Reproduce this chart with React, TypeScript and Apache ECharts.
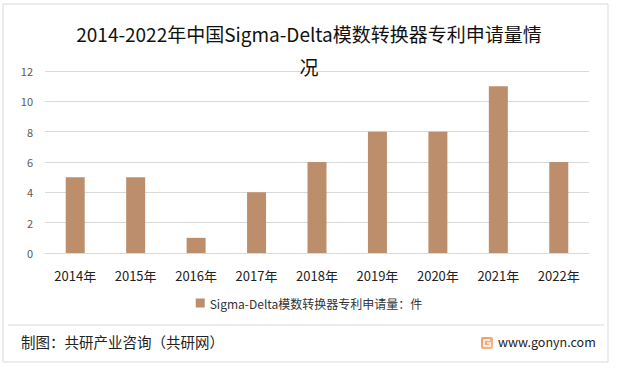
import React, { useEffect, useRef } from "react";
import * as echarts from "echarts";

const categories = ["2014年", "2015年", "2016年", "2017年", "2018年", "2019年", "2020年", "2021年", "2022年"];
const values = [5, 5, 1, 4, 6, 8, 8, 11, 6];
const seriesName = "Sigma-Delta模数转换器专利申请量：件";
const titleText = "2014-2022年中国Sigma-Delta模数转换器专利申请量情\n况";
const sourceText = "制图：共研产业咨询（共研网）";
const siteText = "www.gonyn.com";

export default function App() {
  const ref = useRef<HTMLDivElement>(null);
  useEffect(() => {
    if (!ref.current) return;
    const chart = echarts.init(ref.current, undefined, { renderer: "svg" });
    const font = "'Noto Sans CJK SC', 'Noto Sans', sans-serif";
    chart.setOption({
      animation: false,
      backgroundColor: "#ffffff",
      title: {
        text: titleText,
        left: "center",
        top: 12,
        textStyle: { fontSize: 19, fontWeight: "normal", color: "#111", fontFamily: font, lineHeight: 33 },
      },
      grid: { left: 45, right: 29, top: 71, bottom: 117 },
      legend: {
        bottom: 56,
        left: "center",
        itemWidth: 9,
        itemHeight: 9,
        icon: "rect",
        textStyle: { fontSize: 12, color: "#333", fontFamily: font },
        data: [seriesName],
      },
      xAxis: {
        type: "category",
        data: categories,
        axisLine: { show: true, lineStyle: { color: "#d9d9d9" } },
        axisTick: { show: false },
        axisLabel: { fontSize: 13, color: "#222", margin: 16, fontFamily: font },
      },
      yAxis: {
        type: "value",
        min: 0,
        max: 12,
        interval: 2,
        axisLine: { show: false },
        axisTick: { show: false },
        splitLine: { lineStyle: { color: "#d9d9d9" } },
        axisLabel: { fontSize: 11, color: "#595959", margin: 12, fontFamily: font },
      },
      series: [
        {
          name: seriesName,
          type: "bar",
          data: values,
          barWidth: 19,
          itemStyle: { color: "#BD8E6C" },
        },
      ],
      graphic: [
        {
          type: "rect",
          shape: { x: 3, y: 4, width: 605, height: 358 },
          style: { fill: "none", stroke: "#d9d9d9", lineWidth: 1 },
          silent: true,
        },
        {
          type: "line",
          shape: { x1: 8, y1: 325, x2: 604, y2: 325 },
          style: { stroke: "#d9d9d9", lineWidth: 1 },
        },
        {
          type: "text",
          left: 21,
          top: 334,
          style: { text: sourceText, fontSize: 14.5, fill: "#222", fontFamily: font },
        },
        {
          type: "rect",
          shape: { x: 481, y: 337, width: 12, height: 12, r: 2 },
          style: {
            fill: new echarts.graphic.LinearGradient(0, 0, 1, 1, [
              { offset: 0, color: "#F59B4C" },
              { offset: 1, color: "#F7B8A2" },
            ]),
          },
        },
        {
          type: "polyline",
          shape: { points: [[490, 340], [484, 340], [484, 346], [490, 346], [490, 343], [487, 343]] },
          style: { stroke: "#ffffff", fill: "none", lineWidth: 1.5 },
        },
        {
          type: "text",
          left: 498,
          top: 335,
          style: { text: siteText, fontSize: 12.5, fill: "#222", fontFamily: font },
        },
      ],
    });
    return () => chart.dispose();
  }, []);
  return <div ref={ref} style={{ position: "fixed", left: 0, top: 0, width: 618, height: 370 }} />;
}
